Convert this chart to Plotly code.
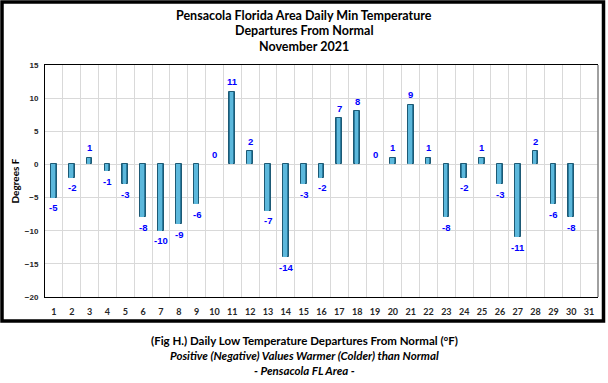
import plotly.graph_objects as go

days = list(range(1, 32))
departures = [-5, -2, 1, -1, -3, -8, -10, -9, -6, 0, 11, 2, -7, -14, -3, -2, 7, 8, 0, 1, 9, 1,
              -8, -2, 1, -3, -11, 2, -6, -8, None]
y_ticks = [-20, -15, -10, -5, 0, 5, 10, 15]

title_lines = ["Pensacola Florida Area Daily Min Temperature", "Departures From Normal", "November 2021"]
caption_lines = ["(Fig H.) Daily Low Temperature Departures From Normal (°F)",
                 "<i>Positive (Negative) Values Warmer (Colder) than Normal</i>",
                 "<i>- Pensacola FL Area -</i>"]

W, H = 608, 383
L, R, T, B = 45, 10, 65, 86
pw, ph = W - L - R, H - T - B


def px_x(p):
    return (p - L) / pw


def px_y(p):
    return (H - B - p) / ph


xs = [d for d, v in zip(days, departures) if v is not None]
ys = [v for v in departures if v is not None]
ys_bar = [v if v != 0 else None for v in ys]

fig = go.Figure()
# dark body of the bar (right/shadow side)
fig.add_trace(go.Bar(
    x=xs, y=ys_bar, width=0.32,
    marker=dict(color="#2a7b9e", line=dict(color="#1d5a75", width=1)),
    hoverinfo="skip",
))
# light face of the bar
fig.add_trace(go.Bar(
    x=xs, y=ys_bar, width=0.2, offset=-0.15,
    marker=dict(color="#5cb8dc", line=dict(width=0)),
    hoverinfo="skip",
))

for x, v in zip(xs, ys):
    fig.add_annotation(
        x=x, y=v, text=str(v), showarrow=False,
        yanchor="middle", yshift=10 if v >= 0 else -10,
        font=dict(family="Liberation Sans", size=9.5, color="#0000ff", weight="bold"),
    )

fig.update_layout(
    width=W, height=H,
    margin=dict(l=L, r=R, t=T, b=B),
    paper_bgcolor="white", plot_bgcolor="white",
    showlegend=False,
    barmode="overlay",
    bargap=0,
    xaxis=dict(
        range=[0.5, 31.5], tickmode="array", tickvals=days, ticktext=[str(d) for d in days],
        showgrid=False, zeroline=False,
        showline=True, linecolor="black", linewidth=1, mirror=True,
        ticks="outside", ticklen=6, tickcolor="rgba(0,0,0,0)",
        tickfont=dict(family="Lato", size=9, color="#262626", weight="bold"),
        minor=dict(tick0=0.5, dtick=1, showgrid=True, gridcolor="#d9d9d9", gridwidth=1, ticks=""),
        fixedrange=True,
    ),
    yaxis=dict(
        range=[-20, 15], tickmode="array", tickvals=y_ticks,
        showgrid=True, gridcolor="#d9d9d9", gridwidth=1, zeroline=False,
        showline=True, linecolor="black", linewidth=1,
        ticks="outside", ticklen=4, tickcolor="rgba(0,0,0,0)",
        tickfont=dict(family="Liberation Sans", size=8, color="#262626", weight="bold"),
        title=dict(text="Degrees F", font=dict(family="Lato", size=10, color="black", weight="bold"), standoff=3),
        fixedrange=True,
    ),
)

# right plot border (grey)
fig.add_shape(type="line", xref="paper", yref="paper", x0=1, x1=1, y0=0, y1=1,
              line=dict(color="#808080", width=1.5))
# outer frame
fig.add_shape(type="rect", xref="paper", yref="paper",
              x0=px_x(2), x1=px_x(603.5), y0=px_y(321), y1=px_y(2),
              line=dict(color="black", width=3.5), fillcolor="rgba(0,0,0,0)")

for i, t in enumerate(title_lines):
    fig.add_annotation(xref="paper", yref="paper", x=px_x(304), y=px_y(15 + i * 15.5),
                       text=t, showarrow=False, xanchor="center", yanchor="middle",
                       font=dict(family="Lato", size=12.5, color="black", weight="bold"))
for i, t in enumerate(caption_lines):
    fig.add_annotation(xref="paper", yref="paper", x=px_x(304), y=px_y(340 + i * 15),
                       text=t, showarrow=False, xanchor="center", yanchor="middle",
                       font=dict(family="Lato", size=11.5, color="black", weight="bold"))

fig.write_html(
    "out.html",
    config={"displayModeBar": False},
    post_script="document.body.style.margin='0';document.body.style.padding='0';"
                "document.body.style.overflow='hidden';",
)
